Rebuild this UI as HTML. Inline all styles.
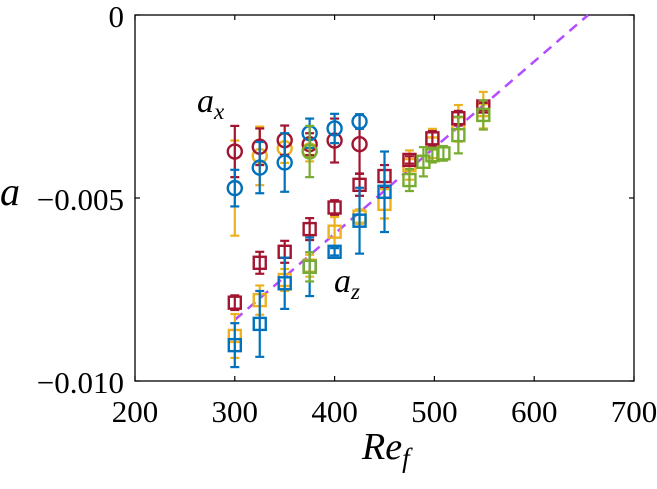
<!DOCTYPE html>
<html><head><meta charset="utf-8"><style>
html,body{margin:0;padding:0;background:#fff;}
svg{display:block;font-family:"Liberation Serif",serif;}
</style></head><body>
<svg id="chart" width="657" height="489" viewBox="0 0 657 489" xmlns="http://www.w3.org/2000/svg"></svg>
<script>
// ----- data -----
const xTicks = [200, 300, 400, 500, 600, 700];
const yTicks = [0, -0.005, -0.010];
const yTickLabels = ["0", "\u22120.005", "\u22120.010"];
const fitLine = [[300, -0.00833], [654, 0]];
// circles (a_x)
const axRedX = [300, 325, 350, 375, 400, 425];
const axRedY = [-0.00373, -0.0036, -0.00342, -0.00353, -0.00343, -0.00353];
const axRedE = [0.0007, 0.0005, 0.0004, 0.0003, 0.0006, 0.0008];
const axYelX = [300, 325, 350, 375];
const axYelY = [-0.00473, -0.00385, -0.00364, -0.0037];
const axYelE = [0.0013, 0.0008, 0.0004, 0.0003];
const axBluX = [300, 325, 350, 375, 400, 425];
const axBluY = [-0.00473, -0.00417, -0.00403, -0.00323, -0.0031, -0.00291];
const axBluE = [0.0005, 0.0007, 0.0008, 0.0004, 0.0004, 0.0002];
const axGrnX = [375];
const axGrnY = [-0.00373];
const axGrnE = [0.0007];
// squares (a_z)
const azRedX = [300, 325, 350, 375, 400, 425, 450, 475, 498, 524, 549];
const azRedY = [-0.00786, -0.00677, -0.00647, -0.00585, -0.00526, -0.00464, -0.0044, -0.00396, -0.00337, -0.00282, -0.0025];
const azRedE = [0.0002, 0.0003, 0.0003, 0.0003, 0.0002, 0.0003, 0.0003, 0.0001, 0.0002, 0.0002, 0.0001];
const azYelX = [300, 325, 350, 375, 400, 425, 450, 475, 498, 524, 549];
const azYelY = [-0.00877, -0.00779, -0.00724, -0.00685, -0.00592, -0.00551, -0.00516, -0.0041, -0.00351, -0.00296, -0.0026];
const azYelE = [0.0006, 0.0004, 0.0003, 0.0003, 0.0004, 0.0002, 0.0004, 0.0004, 0.0004, 0.0005, 0.0005];
const azBluX = [300, 325, 350, 375, 400, 425, 450];
const azBluY = [-0.00902, -0.00844, -0.00733, -0.00688, -0.00647, -0.00562, -0.00483];
const azBluE = [0.0006, 0.0009, 0.0007, 0.0008, 0.0001, 0.0009, 0.0011];
const azGrnX = [375, 475, 489, 498, 509, 524, 549];
const azGrnY = [-0.00688, -0.00451, -0.00401, -0.00383, -0.00378, -0.00328, -0.00273];
const azGrnE = [0.0004, 0.0003, 0.0004, 0.0002, 0.0002, 0.0005, 0.0004];

const NS = "http://www.w3.org/2000/svg";
const svg = document.getElementById("chart");
const L = 135, R = 634, T = 15, B = 381;
function sx(v){ return L + (v - 200) / 500 * (R - L); }
function sy(v){ return T + (0 - v) / 0.010 * (B - T); }
function mk(tag, attrs, parent){
  const e = document.createElementNS(NS, tag);
  for (const k in attrs) e.setAttribute(k, attrs[k]);
  (parent || svg).appendChild(e);
  return e;
}
const box = mk("rect", {x:L, y:T, width:R-L, height:B-T, fill:"none", stroke:"#000", "stroke-width":1.3});


xTicks.forEach(v => {
  const x = sx(v);
  const t1 = mk("line", {x1:x, x2:x, y1:B, y2:B-5, stroke:"#000", "stroke-width":1.2});
  
  
  mk("line", {x1:x, x2:x, y1:T, y2:T+5, stroke:"#000", "stroke-width":1.2});
  const tx = mk("text", {x:x, y:422, "text-anchor":"middle", "font-size":31});
  tx.textContent = String(v);
  
  
});
yTicks.forEach((v, i) => {
  const y = sy(v);
  const t1 = mk("line", {x1:L, x2:L+5, y1:y, y2:y, stroke:"#000", "stroke-width":1.2});
  
  
  mk("line", {x1:R, x2:R-5, y1:y, y2:y, stroke:"#000", "stroke-width":1.2});
  const ty = mk("text", {x:124, y:y+12, "text-anchor":"end", "font-size":31});
  ty.textContent = yTickLabels[i];
  
  
});
const fl = mk("line", {x1:sx(fitLine[0][0]), y1:sy(fitLine[0][1]), x2:sx(fitLine[1][0]), y2:sy(fitLine[1][1]), stroke:"#b44cff", "stroke-width":2.5, "stroke-dasharray":"10,7"});



function series(xs, ys, es, color, shape, name){
  const g = mk("g", {});
  
  
  xs.forEach((xv, i) => {
    const x = sx(xv), y = sy(ys[i]), y1 = sy(ys[i] + es[i]), y2 = sy(ys[i] - es[i]);
    mk("line", {x1:x, x2:x, y1:y1, y2:y2, stroke:color, "stroke-width":2.2}, g);
    mk("line", {x1:x-4.5, x2:x+4.5, y1:y1, y2:y1, stroke:color, "stroke-width":2.2}, g);
    mk("line", {x1:x-4.5, x2:x+4.5, y1:y2, y2:y2, stroke:color, "stroke-width":2.2}, g);
    let m;
    if (shape === "c") m = mk("circle", {cx:x, cy:y, r:7, fill:"none", stroke:color, "stroke-width":2.4}, g);
    else m = mk("rect", {x:x-6, y:y-6, width:12, height:12, fill:"none", stroke:color, "stroke-width":2.4}, g);
    
    
  });
}
series(axYelX, axYelY, axYelE, "#EDB120", "c", "ax-yellow");
series(azYelX, azYelY, azYelE, "#EDB120", "s", "az-yellow");
series(axRedX, axRedY, axRedE, "#A2142F", "c", "ax-red");
series(azRedX, azRedY, azRedE, "#A2142F", "s", "az-red");
series(axBluX, axBluY, axBluE, "#0072BD", "c", "ax-blue");
series(azBluX, azBluY, azBluE, "#0072BD", "s", "az-blue");
series(axGrnX, axGrnY, axGrnE, "#77AC30", "c", "ax-green");
series(azGrnX, azGrnY, azGrnE, "#77AC30", "s", "az-green");
</script>
<svg style="position:absolute;left:0;top:0" width="657" height="489">
  <text x="0" y="205" font-family="Liberation Serif, serif" font-style="italic" font-size="40">a</text>
  <text x="362" y="459" font-family="Liberation Serif, serif" font-style="italic" font-size="38">Re<tspan font-size="27" dy="8">f</tspan></text>
  <text x="197" y="112" font-family="Liberation Serif, serif" font-style="italic" font-size="34">a<tspan font-size="23" dy="7">x</tspan></text>
  <text x="334" y="292" font-family="Liberation Serif, serif" font-style="italic" font-size="34">a<tspan font-size="23" dy="7">z</tspan></text>
</svg>
</body></html>
